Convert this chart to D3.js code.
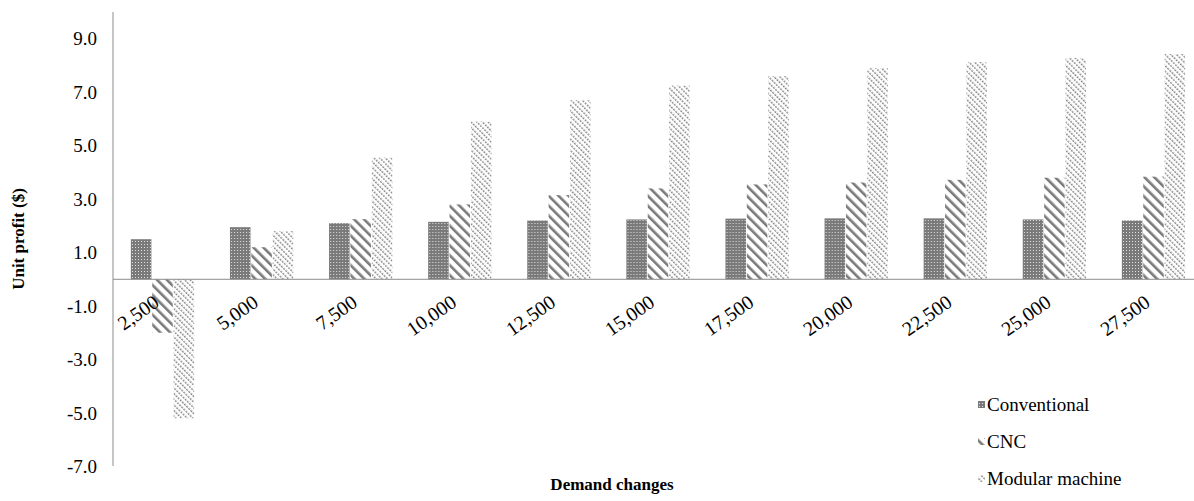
<!DOCTYPE html>
<html>
<head>
<meta charset="utf-8">
<script src="https://cdn.jsdelivr.net/npm/d3@7"></script>
<style>
  body { margin: 0; background: #fff; }
  svg, svg text { font-family: "Liberation Serif", "Times New Roman", Times, serif; }
</style>
</head>
<body>
<div id="chart-area"></div>
<script>
var categories = ["2,500", "5,000", "7,500", "10,000", "12,500", "15,000", "17,500", "20,000", "22,500", "25,000", "27,500"];
var seriesNames = ["Conventional", "CNC", "Modular machine"];
var conventional = [1.5, 1.95, 2.1, 2.15, 2.2, 2.24, 2.27, 2.28, 2.28, 2.24, 2.2];
var cnc = [-2.0, 1.2, 2.25, 2.8, 3.15, 3.4, 3.55, 3.62, 3.72, 3.8, 3.84];
var modular = [-5.2, 1.8, 4.55, 5.9, 6.7, 7.25, 7.6, 7.9, 8.13, 8.28, 8.43];
var yTicks = [-7, -5, -3, -1, 1, 3, 5, 7, 9];

var mwidth = 1194, mheight = 501;
var mleft = 113, mtop = 12, mbottom = 466;
var serif = "Liberation Serif";

var svg = d3.select("#chart-area").append("svg")
  .attr("width", mwidth)
  .attr("height", mheight)
  .attr("font-family", serif);

// patterns
var defs = svg.append("defs");
var pConv = defs.append("pattern").attr("id", "pConv")
  .attr("patternUnits", "userSpaceOnUse").attr("width", 3).attr("height", 3);
pConv.append("rect").attr("width", 3).attr("height", 3).attr("fill", "#7a7a7a");
pConv.append("rect").attr("x", 1).attr("y", 1).attr("width", 1).attr("height", 1).attr("fill", "#e0e0e0");

var pCnc = defs.append("pattern").attr("id", "pCnc")
  .attr("patternUnits", "userSpaceOnUse").attr("width", 7).attr("height", 7)
  .attr("patternTransform", "rotate(-45)");
pCnc.append("rect").attr("width", 7).attr("height", 7).attr("fill", "#fff");
pCnc.append("rect").attr("width", 2.6).attr("height", 7).attr("fill", "#7a7a7a");

var pMod = defs.append("pattern").attr("id", "pMod")
  .attr("patternUnits", "userSpaceOnUse").attr("width", 4).attr("height", 3)
  .attr("patternTransform", "rotate(-45)");
pMod.append("rect").attr("width", 4).attr("height", 3).attr("fill", "#fff");
pMod.append("rect").attr("width", 1.4).attr("height", 2).attr("fill", "#888");

var fills = ["url(#pConv)", "url(#pCnc)", "url(#pMod)"];

var y = d3.scaleLinear().domain([-7, 10]).range([mbottom + 0.4, mtop]);
var x0 = d3.scaleBand().domain(categories).range([mleft, mleft + 99.1 * categories.length]);
var x1 = d3.scaleBand().domain(seriesNames).range([17, 82]).padding(0.04);

var data = categories.map(function(c, i) {
  return {cat: c, vals: [conventional[i], cnc[i], modular[i]]};
});

var g = svg.append("g");

var groups = g.selectAll(".grp").data(data).enter().append("g")
  .attr("class", "grp")
  .attr("transform", function(d) { return "translate(" + x0(d.cat) + ",0)"; });

groups.selectAll("rect").data(function(d) {
    return d.vals.map(function(v, k) { return {name: seriesNames[k], v: v, k: k}; });
  }).enter().append("rect")
  .attr("x", function(d) { return x1(d.name); })
  .attr("y", function(d) { return y(Math.max(0, d.v)); })
  .attr("width", x1.bandwidth())
  .attr("height", function(d) { return Math.abs(y(d.v) - y(0)); })
  .attr("fill", function(d) { return fills[d.k]; });

// y axis
var yAxis = d3.axisLeft(y).tickValues(yTicks).tickSize(0).tickPadding(16)
  .tickFormat(function(d) { return d.toFixed(1); });
var yAxisGroup = svg.append("g").attr("transform", "translate(" + mleft + ",0)").call(yAxis)
  .attr("font-family", serif).attr("font-size", null);
yAxisGroup.select(".domain").attr("stroke", "#8c8c8c").attr("d", "M0," + mtop + "V" + mbottom);
yAxisGroup.selectAll("text").style("font-size", "19px").attr("fill", "#000");

// zero line
svg.append("line")
  .attr("x1", mleft).attr("x2", mwidth)
  .attr("y1", y(0)).attr("y2", y(0))
  .attr("stroke", "#8c8c8c").attr("stroke-width", 1);

// category labels
svg.selectAll(".cat").data(categories).enter().append("text")
  .attr("class", "cat")
  .attr("text-anchor", "end")
  .style("font-size", "20px")
  .attr("transform", function(d) {
    return "translate(" + (x0(d) + x0.bandwidth() / 2 - 2) + "," + (y(0) + 26) + ") rotate(-35)";
  })
  .text(function(d) { return d; });

// axis titles
svg.append("text")
  .attr("transform", "translate(24," + ((mtop + mbottom) / 2) + ") rotate(-90)")
  .attr("text-anchor", "middle")
  .style("font-size", "17px")
  .attr("font-weight", "bold")
  .text("Unit profit ($)");

svg.append("text")
  .attr("x", 612).attr("y", 490)
  .attr("text-anchor", "middle")
  .style("font-size", "17px")
  .attr("font-weight", "bold")
  .text("Demand changes");

// legend
var legend = svg.selectAll(".leg").data(seriesNames).enter().append("g")
  .attr("class", "leg")
  .attr("transform", function(d, i) { return "translate(978," + (405 + i * 37) + ")"; });
legend.append("rect")
  .attr("x", 0).attr("y", -4).attr("width", 7).attr("height", 7)
  .attr("fill", function(d, i) { return fills[i]; });
legend.append("text")
  .attr("x", 9).attr("y", 6)
  .style("font-size", "19px")
  .text(function(d) { return d; });
</script>
</body>
</html>
